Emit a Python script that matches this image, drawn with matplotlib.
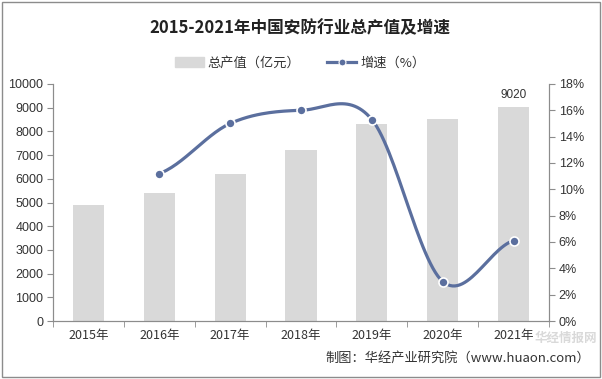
import numpy as np
import matplotlib
matplotlib.use("Agg")
import matplotlib.pyplot as plt
from matplotlib.lines import Line2D
from matplotlib.patches import Patch, Rectangle

plt.rcParams['font.family'] = ['Noto Sans CJK SC', 'DejaVu Sans']

years = ["2015年", "2016年", "2017年", "2018年", "2019年", "2020年", "2021年"]
output_value = [4880, 5400, 6200, 7210, 8300, 8510, 9020]  # 亿元
growth_years = ["2016年", "2017年", "2018年", "2019年", "2020年", "2021年"]
growth = [11.2, 15.0, 16.0, 15.3, 3.0, 6.1]  # %

BAR_COLOR = "#d9d9d9"
LINE_COLOR = "#5b6f9e"
AXIS_COLOR = "#8c8c8c"


def smooth(x, y, n=30):
    # Catmull-Rom style smoothing, like an Excel smoothed line
    x = np.asarray(x, float)
    y = np.asarray(y, float)
    px = np.concatenate([[2 * x[0] - x[1]], x, [2 * x[-1] - x[-2]]])
    py = np.concatenate([[y[0]], y, [y[-1]]])
    xs, ys = [], []
    for i in range(1, len(px) - 2):
        t = np.linspace(0, 1, n)
        p0, p1, p2, p3 = (np.array([px[j], py[j]]) for j in range(i - 1, i + 3))
        c1 = p1 + (p2 - p0) / 6
        c2 = p2 - (p3 - p1) / 6
        pts = ((1 - t) ** 3)[:, None] * p1 + (3 * (1 - t) ** 2 * t)[:, None] * c1 \
            + (3 * (1 - t) * t ** 2)[:, None] * c2 + (t ** 3)[:, None] * p2
        xs.append(pts[:, 0])
        ys.append(pts[:, 1])
    return np.concatenate(xs), np.concatenate(ys)


fig = plt.figure(figsize=(6.02, 3.79), dpi=100)
ax = fig.add_axes([53 / 602, 1 - 321 / 379, 496 / 602, 237 / 379])
ax2 = ax.twinx()

x = np.arange(len(years))
ax.bar(x, output_value, width=0.44, color=BAR_COLOR, zorder=1)
ax.text(x[-1], output_value[-1] + 250, str(output_value[-1]), ha="center", va="bottom",
        fontsize=8.5, color="#333333", family="Liberation Sans")

gx = np.array([years.index(g) for g in growth_years])
sx, sy = smooth(gx, growth)
ax2.plot(sx, sy, color=LINE_COLOR, lw=2.3, solid_capstyle="round", zorder=3)
ax2.plot(gx, growth, "o", color=LINE_COLOR, ms=6.5, mec="white", mew=1.2, zorder=4)

ax.set_xlim(-0.5, len(years) - 0.5)
ax.set_ylim(0, 10000)
ax2.set_ylim(0, 18)
ax.set_yticks(np.arange(0, 10001, 1000))
ax2.set_yticks(np.arange(0, 19, 2))
ax2.set_yticklabels([f"{v}%" for v in range(0, 19, 2)])
ax.set_xticks(x)
ax.set_xticklabels(years)
ax.set_xticks(np.arange(-0.5, len(years), 1), minor=True)
ax.tick_params(axis="x", which="major", length=0, pad=6, labelsize=9, colors="#333333")
ax.tick_params(axis="x", which="minor", length=4, color=AXIS_COLOR)
ax.tick_params(axis="y", length=4, color=AXIS_COLOR, labelsize=9, labelcolor="#333333", pad=3)
ax2.tick_params(axis="y", length=4, color=AXIS_COLOR, labelsize=9, labelcolor="#333333", pad=3)
for lbl in ax.get_yticklabels() + ax2.get_yticklabels():
    lbl.set_family("Liberation Sans")
for a in (ax, ax2):
    a.spines["top"].set_visible(False)
    for s in ("left", "right", "bottom"):
        a.spines[s].set_color(AXIS_COLOR)
        a.spines[s].set_linewidth(0.8)

fig.text(300 / 602, 1 - 28 / 379, "2015-2021年中国安防行业总产值及增速", ha="center", va="center",
         fontsize=12, fontweight="bold", color="#222222")

handles = [Patch(color=BAR_COLOR),
           Line2D([0], [0], color=LINE_COLOR, lw=2.3, marker="o", ms=5, mec="white", mew=0.8)]
fig.legend(handles, ["总产值（亿元）", "增速（%）"], loc="center", bbox_to_anchor=(300 / 602, 1 - 63 / 379),
           ncol=2, frameon=False, fontsize=9.5, handlelength=2.2, columnspacing=2.0,
           handletextpad=0.3, labelcolor="#333333")

# watermark
fig.text(566 / 602, 1 - 338 / 379, "华经情报网", ha="center", va="center", fontsize=9,
         fontweight="bold", color="#d0d0d0", alpha=0.8, zorder=0)
fig.text(590 / 602, 1 - 358 / 379, "制图：华经产业研究院（www.huaon.com）", ha="right", va="center",
         fontsize=9.5, color="#333333")

fig.patches.append(Rectangle((2 / 602, 2 / 379), 598 / 602, 375 / 379, transform=fig.transFigure,
                             fill=False, edgecolor="#8c8c8c", lw=1.0))

fig.savefig("out.png", dpi=100)
